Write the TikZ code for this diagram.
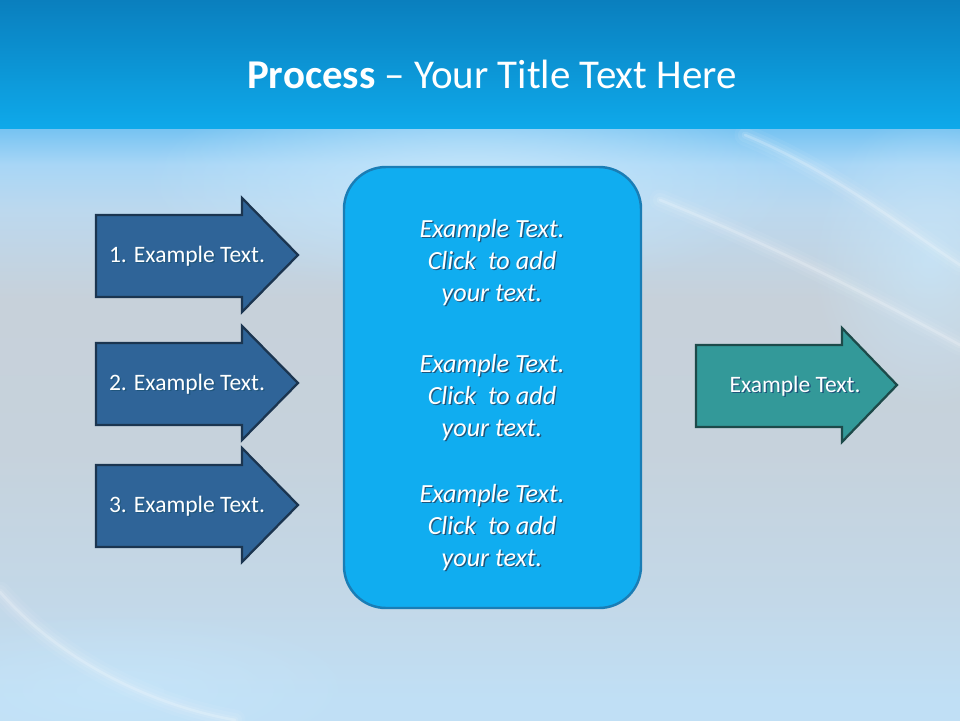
\documentclass[tikz,border=0pt]{standalone}
\usepackage{fontspec}
\setmainfont{Carlito}
\usetikzlibrary{positioning}
\usetikzlibrary{fadings}

\definecolor{bandtop}{HTML}{0A7FBE}
\definecolor{bandbot}{HTML}{0EA9EA}
\definecolor{bg0}{HTML}{78C4F2}
\definecolor{bgA}{HTML}{A8D6F6}
\definecolor{bgB}{HTML}{BCD8EE}
\definecolor{bgC}{HTML}{C7D1DA}
\definecolor{bgD}{HTML}{C6D2DC}
\definecolor{bgE}{HTML}{C3D8E8}
\definecolor{bgF}{HTML}{C0DFF5}
\definecolor{glow}{HTML}{C8E8FC}
\definecolor{boxfill}{HTML}{10ADF0}
\definecolor{boxline}{HTML}{1A7DB5}
\definecolor{stepfill}{HTML}{2F6498}
\definecolor{stepline}{HTML}{1B3550}
\definecolor{resfill}{HTML}{339999}
\definecolor{resline}{HTML}{1D4A4A}
\definecolor{txtshadow}{HTML}{1F557C}

\pgfdeclareverticalshading{backshade}{100bp}{color(0bp)=(bgF); color(25bp)=(bgF); color(26.7bp)=(bgF); color(35.1bp)=(bgE); color(47.8bp)=(bgD); color(60.5bp)=(bgC); color(68.1bp)=(bgB); color(71.9bp)=(bgA); color(74.8bp)=(bg0); color(100bp)=(bg0)}
\tikzfading[name=softglow, inner color=transparent!0, outer color=transparent!100]

\newcommand{\shd}[1]{\leavevmode\rlap{\kern0.8pt\raisebox{-0.8pt}{\color{txtshadow}#1}}#1}

\begin{document}
\begin{tikzpicture}[x=0.02cm, y=-0.02cm,
    stepbox/.style={draw=stepline, line width=1.3pt, fill=stepfill},
    resbox/.style={draw=resline, line width=1.3pt, fill=resfill},
    panel/.style={draw=boxline, line width=1.4pt, fill=boxfill, rounded corners=0.84cm},
    steptext/.style={text=white, font=\fontsize{13.4}{16}\selectfont, inner sep=0pt},
    paneltext/.style={text=white, align=center, inner sep=0pt, font=\fontsize{14.9}{18.1}\selectfont\itshape},
    streak/.style={draw=white, line cap=round}]
    \useasboundingbox (0,0) rectangle (960,720);

    % background
    \fill[shading=backshade] (0,128) rectangle (960,720);
    \fill[glow, path fading=softglow, opacity=0.9] (470,185) ellipse [x radius=330, y radius=110];
    \fill[glow, path fading=softglow, opacity=0.7] (930,260) ellipse [x radius=120, y radius=150];
    \fill[glow, path fading=softglow, opacity=0.6] (120,690) ellipse [x radius=260, y radius=80];
    \foreach \w/\o in {12/0.05, 8/0.07, 4/0.1, 1.5/0.2} {
        \draw[streak, draw opacity=\o, line width=\w pt] (745,135) .. controls (830,170) and (900,225) .. (960,265);
        \draw[streak, draw opacity=\o, line width=\w pt] (0,592) .. controls (60,660) and (150,705) .. (235,720);
        \draw[streak, draw opacity=\o, line width=\w pt] (660,200) .. controls (760,240) and (860,290) .. (960,345);
    }
    \fill[top color=bandtop, bottom color=bandbot] (0,0) rectangle (960,128);

    \node[anchor=base, text=white, inner sep=0pt, font=\fontsize{23.3}{28}\selectfont] (title) at (492,88) {\textbf{Process} – Your Title Text Here};

    % steps
    \draw[stepbox] (96,215) -- (242,215) -- (242,198) -- (298,255) -- (242,312) -- (242,297) -- (96,297) -- cycle;
    \draw[stepbox] (96,343) -- (242,343) -- (242,326) -- (298,383) -- (242,440) -- (242,425) -- (96,425) -- cycle;
    \draw[stepbox] (96,465) -- (242,465) -- (242,448) -- (298,505) -- (242,562) -- (242,547) -- (96,547) -- cycle;
    \node[steptext] (s1) at (187,257) {\shd{1. Example Text.}};
    \node[steptext] (s2) at (187,385) {\shd{2. Example Text.}};
    \node[steptext] (s3) at (187,507) {\shd{3. Example Text.}};

    % middle panel
    \draw[panel] (344,167) rectangle (641,608);
    \node[paneltext] (p1) at (492,263) {\shd{Example Text.}\\\shd{Click~ to add}\\\shd{your text.}};
    \node[paneltext] (p2) at (492,398) {\shd{Example Text.}\\\shd{Click~ to add}\\\shd{your text.}};
    \node[paneltext] (p3) at (492,528) {\shd{Example Text.}\\\shd{Click~ to add}\\\shd{your text.}};

    % result
    \draw[resbox] (696,345) -- (842,345) -- (842,328) -- (897,385) -- (842,442) -- (842,427) -- (696,427) -- cycle;
    \node[steptext] (r) at (795,387) {\shd{Example Text.}};
\end{tikzpicture}
\end{document}
